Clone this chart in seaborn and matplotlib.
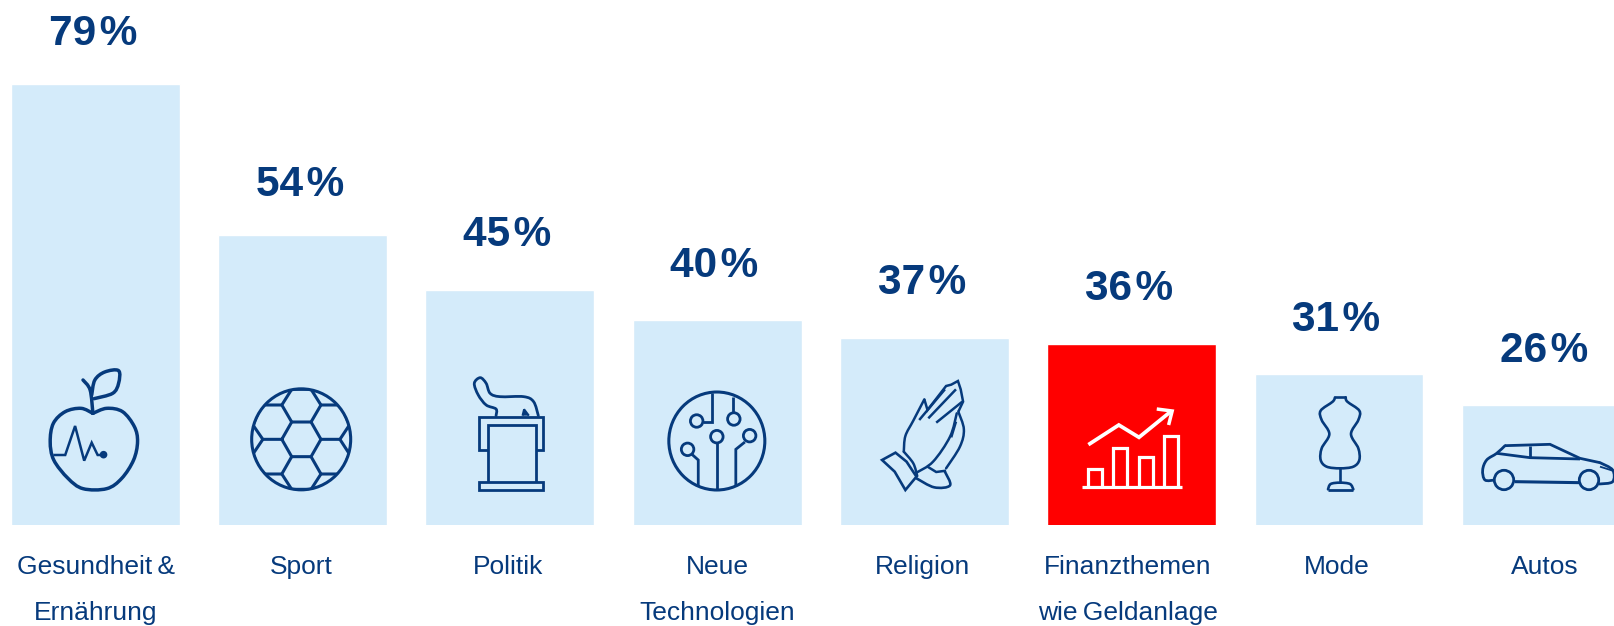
import numpy as np
import pandas as pd
import matplotlib
matplotlib.use("Agg")
import matplotlib.pyplot as plt
from matplotlib.path import Path
from matplotlib.patches import PathPatch, Ellipse, Polygon, Circle
from matplotlib.transforms import ScaledTranslation
import seaborn as sns

categories = ["Gesundheit\u2009&\nErnährung", "Sport", "Politik", "Neue\nTechnologien",
              "Religion", "Finanzthemen\nwie\u2009Geldanlage", "Mode", "Autos"]
values = [79, 54, 45, 40, 37, 36, 31, 26]
value_labels = ["79\u200a%", "54\u200a%", "45\u200a%", "40\u200a%", "37\u200a%", "36\u200a%", "31\u200a%", "26\u200a%"]
highlight = "Finanzthemen\nwie\u2009Geldanlage"

NAVY = "#063A7C"
PALE = "#D4EBFA"
RED = "#FF0000"
W, H = 1614, 626
DPI = 100
BASE_ROW = 524.7

sns.set_theme(style="white")
plt.rcParams["font.family"] = ["Liberation Sans", "DejaVu Sans"]

fig = plt.figure(figsize=(W / DPI, H / DPI), dpi=DPI, facecolor="white")
# the value axis is truncated: its baseline (about 6.2 %) sits at the bars' foot
ax = fig.add_axes([0, (H - BASE_ROW) / H, 1, BASE_ROW / H])
df = pd.DataFrame({"category": categories, "value": values})
palette = {c: (RED if c == highlight else PALE) for c in categories}
sns.barplot(data=df, x="category", y="value", hue="category", palette=palette,
            order=categories, width=0.815, dodge=False, legend=False, saturation=1, ax=ax)
PITCH = 207.3
ax.set_xlim(-95.2 / PITCH, (W - 95.2) / PITCH)
ax.set_ylim(6.2, 6.2 + BASE_ROW / 6.06)
ax.set_xlabel("")
ax.set_ylabel("")
ax.set_yticks([])
for s in ax.spines.values():
    s.set_visible(False)
ax.patch.set_alpha(0)

ax.tick_params(axis="x", length=0, pad=22, labelsize=19, labelcolor=NAVY)
label_shift = [0.8, -1.7, -2.2, -0.2, -2.2, -4.2, -2.2, -1.2]
for lbl, dx in zip(ax.get_xticklabels(), label_shift):
    lbl.set_linespacing(2.15)
    lbl.set_transform(lbl.get_transform() + ScaledTranslation(dx / DPI, 0, fig.dpi_scale_trans))

label_gap = [39, 39, 44, 43, 44, 44, 43, 43]
for i, (v, t, gap) in enumerate(zip(values, value_labels, label_gap)):
    ax.annotate(t, xy=(i, v), xytext=(-1.8, gap * 0.72), textcoords="offset points",
                ha="center", va="baseline", fontsize=30.5, fontweight="bold",
                color=NAVY, annotation_clip=False)

# ---- decorative line icons, in a transparent pixel-space overlay ----
ov = fig.add_axes([0, 0, 1, 1])
ov.set_xlim(0, W)
ov.set_ylim(H, 0)
ov.axis("off")
ov.patch.set_alpha(0)


def mapper(ox, oy, sx, sy):
    return lambda pts: [(ox + x / sx, oy + y / sy) for x, y in pts]


def smooth(pts, closed=False):
    pts = np.asarray(pts, float)
    n = len(pts)
    verts, codes = [pts[0]], [Path.MOVETO]
    segs = n if closed else n - 1
    for i in range(segs):
        p1, p2 = pts[i], pts[(i + 1) % n]
        p0 = pts[(i - 1) % n] if (closed or i > 0) else p1
        p3 = pts[(i + 2) % n] if (closed or i + 2 < n) else p2
        verts += [p1 + (p2 - p0) / 6, p2 - (p3 - p1) / 6, p2]
        codes += [Path.CURVE4] * 3
    return Path(verts, codes)


def curve(pts, lw=1.8, color=NAVY, closed=False):
    ov.add_patch(PathPatch(smooth(pts, closed), fill=False, ec=color, lw=lw, capstyle="round", joinstyle="round"))


def poly(pts, lw=1.8, color=NAVY, closed=False, face="none"):
    ov.add_patch(Polygon(pts, closed=closed, fill=face != "none", fc=face, ec=color, lw=lw, joinstyle="miter"))


m1 = mapper(0, 350, 2.53, 3)
m2 = mapper(620, 350, 2.53, 3)
m3 = mapper(1200, 280, 3, 3)

# apple
curve(m1([(235, 190), (270, 175), (310, 185), (340, 230), (348, 275), (338, 330), (308, 385), (270, 416),
          (210, 416), (172, 385), (136, 330), (127, 275), (135, 220), (165, 185), (205, 175), (235, 190)]), lw=2.5)
curve(m1([(210, 90), (228, 120), (235, 190)]), lw=2.5)
curve(m1([(232, 135), (240, 90), (265, 66), (300, 62), (300, 100), (285, 130), (238, 146)]), lw=2.5)
poly(m1([(135, 315), (165, 315), (190, 228), (213, 332), (232, 278), (247, 315), (262, 315)]), lw=1.8)
ov.add_patch(Circle(m1([(262, 314)])[0], 3.8, fc=NAVY, ec="none"))

# football
cx, cy = m1([(762, 268)])[0]
ov.add_patch(Ellipse((cx, cy), 99, 101, fill=False, ec=NAVY, lw=2.2))
clip = Ellipse((cx, cy), 99, 101, transform=ov.transData)
hex_lines = [
    [(713, 268), (738, 216), (787, 216), (812, 268), (787, 320), (738, 320), (713, 268)],
    [(738, 216), (713, 165), (738, 118), (787, 118), (812, 165), (787, 216)],
    [(738, 320), (713, 372), (738, 418), (787, 418), (812, 372), (787, 320)],
    [(713, 165), (662, 165), (640, 225), (665, 268), (713, 268)],
    [(812, 165), (862, 165), (884, 225), (860, 268), (812, 268)],
    [(713, 372), (662, 372), (640, 312), (665, 268)],
    [(812, 372), (862, 372), (884, 312), (860, 268)],
    [(662, 165), (705, 125)], [(862, 165), (820, 125)],
    [(662, 372), (705, 412)], [(862, 372), (820, 412)],
]
for seg in hex_lines:
    ln, = ov.plot(*zip(*m1(seg)), color=NAVY, lw=2.2, solid_joinstyle="miter")
    ln.set_clip_path(clip)

# lectern
poly(m1([(1235, 300), (1213, 300), (1213, 200), (1375, 200), (1375, 300), (1355, 300)]), lw=2.0)
poly(m1([(1235, 395), (1235, 225), (1355, 225), (1355, 395)]), lw=2.0)
poly(m1([(1213, 395), (1375, 395), (1375, 420), (1213, 420)]), lw=2.0, closed=True)
curve(m1([(1255, 197), (1255, 177), (1230, 165), (1210, 135), (1200, 100), (1215, 83), (1230, 100),
          (1240, 130), (1265, 140), (1325, 140), (1350, 155), (1362, 197)]), lw=2.0)
poly(m1([(1322, 197), (1326, 178), (1338, 197)]), lw=1.5, face=NAVY)

# technology globe
ov.add_patch(Ellipse(m2([(245, 273)])[0], 96, 98, fill=False, ec=NAVY, lw=2.2))
for seg in ([(232, 130), (232, 215), (210, 215)], [(287, 140), (287, 190)], [(245, 278), (245, 418)],
            [(293, 405), (293, 298), (316, 276)], [(198, 408), (198, 330), (182, 313)]):
    poly(m2(seg), lw=2.0)
for node in [(194, 213), (288, 207), (245, 260), (328, 257), (171, 298)]:
    ov.add_patch(Ellipse(m2([node])[0], 12.5, 12.5, fill=False, ec=NAVY, lw=2.0))

# praying hands
curve(m2([(718, 305), (722, 258), (742, 212), (770, 148)]), lw=1.8)
poly(m2([(770, 148), (778, 180), (825, 108), (838, 104), (855, 93), (862, 118), (868, 155), (856, 185)]), lw=1.8)
curve(m2([(856, 185), (870, 238), (860, 290), (825, 355)]), lw=1.8)
curve(m2([(852, 190), (835, 260), (792, 335), (750, 368)]), lw=1.8)
curve(m2([(718, 305), (742, 340), (752, 378)]), lw=1.8)
for seg in ([(757, 210), (822, 118)], [(780, 205), (850, 118)], [(800, 218), (866, 155)],
            [(838, 262), (850, 215)], [(778, 350), (800, 366), (825, 362)]):
    poly(m2(seg), lw=1.8)
poly(m2([(663, 330), (697, 308), (725, 335), (750, 380), (722, 420), (695, 365)]), lw=1.9, closed=True)
curve(m2([(750, 385), (795, 412), (835, 406), (822, 365)]), lw=1.9)

# finance chart (white)
poly(m2([(1170, 412), (1423, 412)]), lw=2.3, color="white")
for x0, x1, top in [(1183, 1220, 358), (1247, 1283, 295), (1312, 1348, 320), (1377, 1411, 257)]:
    poly(m2([(x0, 410), (x0, top), (x1, top), (x1, 410)]), lw=2.3, color="white")
poly(m2([(1185, 284), (1262, 225), (1313, 262), (1395, 183)]), lw=2.7, color="white")
poly(m2([(1358, 177), (1397, 183), (1388, 225)]), lw=2.5, color="white")

# dress form
curve(m3([(437, 352), (442, 365), (478, 392), (475, 420), (453, 462), (475, 505), (478, 540), (460, 560),
          (420, 565), (380, 560), (362, 540), (365, 505), (388, 462), (365, 420), (362, 392), (398, 365), (405, 352)]), lw=1.9)
poly(m3([(405, 352), (437, 352)]), lw=1.9)
poly(m3([(420, 565), (420, 608)]), lw=1.9)
curve(m3([(384, 628), (392, 612), (420, 608), (450, 612), (460, 628)]), lw=1.9)
poly(m3([(384, 629), (460, 629)]), lw=2.0)

# car
curve(m3([(885, 600), (855, 600), (848, 570), (860, 540), (890, 520), (915, 497)]), lw=2.0)
poly(m3([(915, 497), (1050, 493), (1140, 535), (1200, 548)]), lw=2.0)
curve(m3([(1200, 548), (1238, 570), (1238, 605), (1198, 612)]), lw=2.0)
poly(m3([(1140, 608), (945, 605)]), lw=2.2)
poly(m3([(890, 520), (990, 533), (1140, 537)]), lw=2.0)
poly(m3([(990, 497), (990, 530)]), lw=2.0)
poly(m3([(1200, 560), (1238, 572)]), lw=1.3)
for c in [(912, 600), (1167, 600)]:
    ov.add_patch(Circle(m3([c])[0], 9.7, fc=PALE, ec=NAVY, lw=2.0))

fig.savefig("out.png", dpi=DPI, facecolor="white")
